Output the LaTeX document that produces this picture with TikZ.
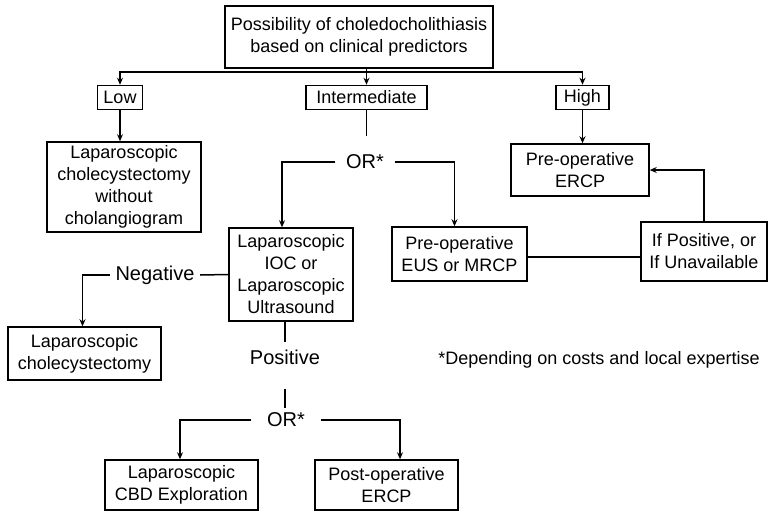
\documentclass[tikz,border=0pt]{standalone}
\usepackage{fontspec}
\setmainfont{Liberation Sans}
\usetikzlibrary{arrows.meta,calc}
\tikzset{
  box/.style={draw,line width=1.5pt,align=center,inner sep=1pt,font=\fontsize{18}{22}\selectfont},
  lbl/.style={font=\fontsize{20}{24}\selectfont},
  arr/.style={-{Stealth[length=7pt,width=6pt]}},
}
\begin{document}
\begin{tikzpicture}[x=1pt,y=-1pt,line width=1.5pt]
\useasboundingbox (0,0) rectangle (768,511);
% risk groups
\node[box,minimum width=268pt,minimum height=62pt] (top) at (359,37) {Possibility of choledocholithiasis\\based on clinical predictors};
\node[box,minimum width=45pt,minimum height=24pt] (low) at (120,97.5) {Low};
\node[box,minimum width=121pt,minimum height=24pt] (mid) at (366.5,97.5) {Intermediate};
\node[box,minimum width=53pt,minimum height=24pt] (high) at (582.5,97.5) {High};
\coordinate (split) at (366,72);
\draw[arr] (mid.north |- top.south) -- (mid.north);
\draw[arr] (split) -| (low.north);
\draw[arr] (split) -| (high.north);
% low
\node[box,minimum width=154pt,minimum height=90pt] (nochol) at (124,187) {Laparoscopic\\cholecystectomy\\without\\cholangiogram};
\draw[arr] (low.south) -- (nochol.north -| low.south);
% high
\node[box,minimum width=138pt,minimum height=52pt] (ercpA) at (580,170) {Pre-operative\\ERCP};
\draw[arr] (high.south) -- (ercpA.north -| high.south);
% intermediate
\node[lbl,inner xsep=10pt,inner ysep=18.6pt] (or1) at (365,162) {OR*};
\node[box,minimum width=124pt,minimum height=93pt] (ioc) at (291,274.5) {Laparoscopic\\IOC or\\Laparoscopic\\Ultrasound};
\node[box,minimum width=135pt,minimum height=54pt] (eus) at (459.5,254) {Pre-operative\\EUS or MRCP};
\node[box,minimum width=126pt,minimum height=59pt] (ifpos) at (704,251.5) {If Positive, or\\If Unavailable};
\draw (mid.south) -- (or1.north -| mid.south);
\draw[arr] (or1.west) -| ([xshift=-9pt]ioc.north);
\draw[arr] (or1.east) -| ([xshift=-5pt]eus.north);
\draw ([yshift=-3pt]eus.east) -- ([yshift=-3pt]eus.east -| ifpos.west);
\draw[arr] (ifpos.north) |- (ercpA.east);
% negative branch
\node[lbl,inner xsep=5pt] (neg) at (155,275) {Negative};
\node[box,minimum width=153pt,minimum height=53pt] (lapchol) at (84.5,353.5) {Laparoscopic\\cholecystectomy};
\draw (ioc.west) -- (neg.east);
\draw[arr] (neg.west) -| ([xshift=-2pt]lapchol.north);
% positive branch
\node[lbl,inner ysep=6.6pt] (pos) at (285,357) {Positive};
\node[lbl,inner xsep=15pt,inner ysep=4.6pt] (or2) at (286,420) {OR*};
\node[box,minimum width=153pt,minimum height=50pt] (cbd) at (181.5,485) {Laparoscopic\\CBD Exploration};
\node[box,minimum width=143pt,minimum height=50pt] (post) at (386.5,485) {Post-operative\\ERCP};
\draw (pos.north |- ioc.south) -- (pos.north);
\draw ([yshift=-17pt]pos.south) -- (or2.north -| pos.south);
\draw[arr] (or2.west) -| ([xshift=-1.5pt]cbd.north);
\draw[arr] (or2.east) -| ([xshift=13.5pt]post.north);
\node[font=\fontsize{18}{22}\selectfont] (note) at (599,360) {*Depending on costs and local expertise};
\end{tikzpicture}
\end{document}
